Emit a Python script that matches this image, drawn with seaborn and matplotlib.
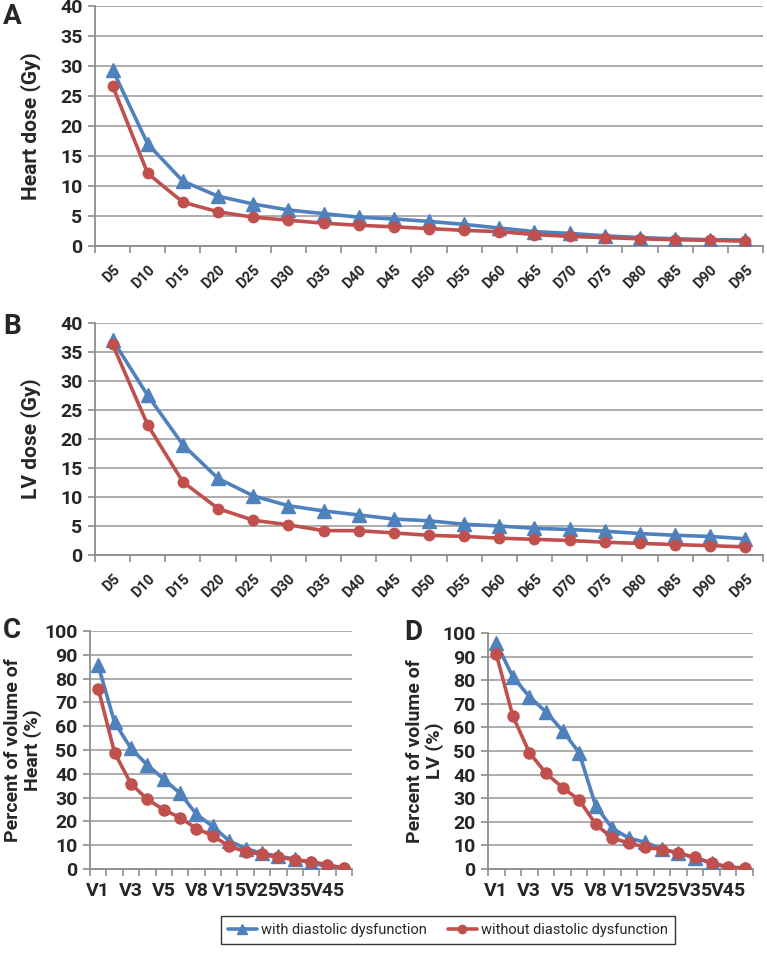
import numpy as np
import pandas as pd
import matplotlib
matplotlib.use("Agg")
import matplotlib.pyplot as plt
from matplotlib.lines import Line2D
import seaborn as sns

sns.set_theme(style="white")
plt.rcParams['font.family'] = ['Roboto', 'DejaVu Sans']

# ---------------- data ----------------
dose_cats = ["D5", "D10", "D15", "D20", "D25", "D30", "D35", "D40", "D45", "D50",
             "D55", "D60", "D65", "D70", "D75", "D80", "D85", "D90", "D95"]
heart_with = [29.4, 17.0, 10.8, 8.3, 7.0, 6.0, 5.4, 4.8, 4.5, 4.1,
              3.6, 3.0, 2.4, 2.1, 1.7, 1.4, 1.2, 1.05, 1.0]
heart_without = [26.7, 12.1, 7.3, 5.7, 4.8, 4.3, 3.8, 3.45, 3.2, 2.9,
                 2.6, 2.4, 1.9, 1.6, 1.4, 1.2, 1.05, 0.95, 0.8]
lv_with = [37.1, 27.5, 19.0, 13.2, 10.2, 8.5, 7.6, 6.9, 6.2, 5.9,
           5.3, 5.0, 4.6, 4.4, 4.1, 3.7, 3.4, 3.2, 2.8]
lv_without = [36.3, 22.4, 12.6, 8.0, 6.0, 5.2, 4.2, 4.2, 3.8, 3.4,
              3.2, 2.9, 2.7, 2.5, 2.2, 2.0, 1.8, 1.6, 1.4]

vol_cats = ["V1", "V2", "V3", "V4", "V5", "V6", "V8", "V10", "V15", "V20",
            "V25", "V30", "V35", "V40", "V45", "V50"]
vol_tick_labels = ["V1", "", "V3", "", "V5", "", "V8", "", "V15", "",
                   "V25", "", "V35", "", "V45", ""]
heartv_with = [85.6, 61.6, 50.7, 43.7, 37.8, 31.8, 23.0, 17.9, 11.8, 8.6,
               6.6, 5.4, 4.2, 2.6, 1.0, 0.0]
heartv_without = [75.8, 48.9, 35.8, 29.3, 24.9, 21.6, 17.0, 14.0, 9.5, 7.3,
                  6.1, 4.9, 3.9, 3.1, 1.8, 0.4]
lvv_with = [95.8, 81.4, 73.0, 66.6, 58.6, 49.3, 26.8, 17.3, 13.1, 11.3,
            8.5, 6.8, 4.6, 2.5, 0.6, 0.2]
lvv_without = [91.0, 64.8, 49.3, 40.6, 34.5, 29.3, 19.0, 13.1, 11.0, 9.3,
               8.2, 6.8, 4.9, 2.6, 0.9, 0.4]

series_names = ["with diastolic dysfunction", "without diastolic dysfunction"]
BLUE = "#4F81BD"
RED = "#C0504D"
GRID = "#A6A6A6"
AX = "#8C8C8C"

W, H = 767, 963
fig = plt.figure(figsize=(W / 100, H / 100), dpi=100)


def axes_px(left, top, right, bottom):
    return fig.add_axes([left / W, 1 - bottom / H, (right - left) / W, (bottom - top) / H])


def draw(ax, cats, with_vals, without_vals, ymax, ystep, ylabel, ticklabels,
         rotate, ms_tri=9.5, ms_circ=7.5, ylab_size=15):
    n = len(cats)
    pos = np.arange(n)
    df = pd.DataFrame({
        "pos": np.concatenate([pos, pos]),
        "val": list(with_vals) + list(without_vals),
        "series": [series_names[0]] * n + [series_names[1]] * n,
    })
    for name, color, mk, ms in [(series_names[0], BLUE, "^", ms_tri),
                                (series_names[1], RED, "o", ms_circ)]:
        sub = df[df.series == name]
        sns.lineplot(data=sub, x="pos", y="val", ax=ax, color=color, lw=2.6,
                     marker=mk, markersize=ms, markeredgecolor=color,
                     markeredgewidth=1, sort=False, legend=False, zorder=3)
    ax.set_xlim(-0.5, n - 0.5)
    ax.set_ylim(0, ymax)
    ax.set_yticks(np.arange(0, ymax + 0.1, ystep))
    ax.set_yticklabels([f"{int(v)}" for v in np.arange(0, ymax + 0.1, ystep)],
                       fontsize=14, fontweight="bold")
    ax.grid(axis="y", color=GRID, lw=1.3)
    ax.set_axisbelow(True)
    for s in ["top", "right"]:
        ax.spines[s].set_visible(False)
    for s in ["left", "bottom"]:
        ax.spines[s].set_color(AX)
        ax.spines[s].set_linewidth(1.3)
    ax.tick_params(axis="y", which="major", direction="out", length=5, width=1.2,
                   color=AX, pad=4, left=True)
    ax.set_xticks(pos)
    ax.set_xticks(np.arange(-0.5, n, 1.0), minor=True)
    ax.tick_params(axis="x", which="minor", direction="out", length=5, width=1.2,
                   color=AX, bottom=True)
    ax.tick_params(axis="x", which="major", length=0, bottom=True)
    if rotate:
        ax.set_xticklabels(ticklabels, rotation=45, ha="right",
                           rotation_mode="anchor", fontsize=10.5, fontweight="bold")
        ax.tick_params(axis="x", which="major", pad=12)
    else:
        ax.set_xticklabels(ticklabels, fontsize=14, fontweight="bold")
        ax.tick_params(axis="x", which="major", pad=9)
    ax.set_xlabel("")
    ax.set_ylabel(ylabel, fontsize=ylab_size, fontweight="bold", linespacing=1.05)


axA = axes_px(95, 6, 763, 246)
draw(axA, dose_cats, heart_with, heart_without, 40, 5, "Heart dose (Gy)", dose_cats, True)
axA.yaxis.set_label_coords(-54 / 668, 0.5)

axB = axes_px(95, 323, 763, 555)
draw(axB, dose_cats, lv_with, lv_without, 40, 5, "LV dose (Gy)", dose_cats, True)
axB.yaxis.set_label_coords(-54 / 668, 0.5)

axC = axes_px(90, 631, 352, 869)
draw(axC, vol_cats, heartv_with, heartv_without, 100, 10,
     "Percent of volume of\nHeart (%)", vol_tick_labels, False, 10, 8, 14)
axC.yaxis.set_label_coords(-48 / 262, 0.5)

axD = axes_px(488, 633, 753, 869)
draw(axD, vol_cats, lvv_with, lvv_without, 100, 10,
     "Percent of volume of\nLV (%)", vol_tick_labels, False, 10, 8, 14)
axD.yaxis.set_label_coords(-44 / 265, 0.5)

for letter, x, y in [("A", 12, 16), ("B", 12, 327), ("C", 12, 630), ("D", 413, 632)]:
    fig.text(x / W, 1 - y / H, letter, fontsize=20, fontweight="bold",
             ha="center", va="center")

handles = [Line2D([], [], color=BLUE, lw=2.6, marker="^", markersize=7,
                  markeredgecolor=BLUE),
           Line2D([], [], color=RED, lw=2.6, marker="o", markersize=6,
                  markeredgecolor=RED)]
leg = fig.legend(handles, series_names, loc="center",
                 bbox_to_anchor=(448 / W, 1 - 930 / H), ncol=2, frameon=True,
                 fancybox=False, edgecolor="black", fontsize=10.5,
                 handlelength=2.0, handletextpad=0.3, columnspacing=1.4,
                 borderpad=0.5)
leg.get_frame().set_linewidth(1.0)

fig.savefig("out.png", dpi=100, facecolor="white")
